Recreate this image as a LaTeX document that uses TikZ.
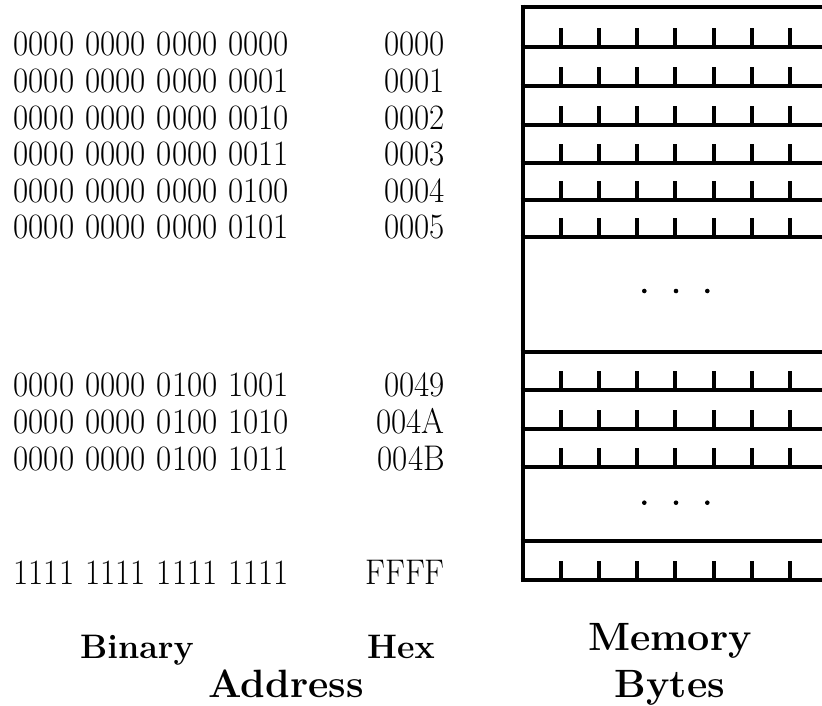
\documentclass[tikz,border=0pt]{standalone}
\usepackage{graphicx}
\newcommand\ysc[1]{\scalebox{1}[1.08]{#1}}
\newcommand\bgr[4]{\ysc{#1\hspace{11pt}#2\hspace{11pt}#3\hspace{11pt}#4}}
\begin{document}
\begin{tikzpicture}[x=1pt,y=-1pt,
  memline/.style={line width=4pt},
  dig/.style={inner sep=0pt, font=\fontsize{33}{40}\selectfont},
  labsmall/.style={inner sep=0pt, anchor=base, font=\bfseries\fontsize{34}{40}\selectfont},
  labbig/.style={inner sep=0pt, anchor=base, font=\bfseries\fontsize{39.5}{46}\selectfont},
  dotmark/.style={fill=black}]
\useasboundingbox (0,0) rectangle (822,705);

% binary addresses
\node[dig, anchor=base west] (b0) at (13.5,55)    {\bgr{0000}{0000}{0000}{0000}};
\node[dig, anchor=base west] (b1) at (13.5,92.5)  {\bgr{0000}{0000}{0000}{0001}};
\node[dig, anchor=base west] (b2) at (13.5,129.5) {\bgr{0000}{0000}{0000}{0010}};
\node[dig, anchor=base west] (b3) at (13.5,165.5) {\bgr{0000}{0000}{0000}{0011}};
\node[dig, anchor=base west] (b4) at (13.5,202)   {\bgr{0000}{0000}{0000}{0100}};
\node[dig, anchor=base west] (b5) at (13.5,238.5) {\bgr{0000}{0000}{0000}{0101}};
\node[dig, anchor=base west] (b6) at (13.5,396)   {\bgr{0000}{0000}{0100}{1001}};
\node[dig, anchor=base west] (b7) at (13.5,433)   {\bgr{0000}{0000}{0100}{1010}};
\node[dig, anchor=base west] (b8) at (13.5,470)   {\bgr{0000}{0000}{0100}{1011}};
\node[dig, anchor=base west] (b9) at (13.5,584.5) {\bgr{1111}{1111}{1111}{1111}};

% hex addresses
\node[dig, anchor=base east] (h0) at (445,55)    {\ysc{0000}};
\node[dig, anchor=base east] (h1) at (445,92.5)  {\ysc{0001}};
\node[dig, anchor=base east] (h2) at (445,129.5) {\ysc{0002}};
\node[dig, anchor=base east] (h3) at (445,165.5) {\ysc{0003}};
\node[dig, anchor=base east] (h4) at (445,202)   {\ysc{0004}};
\node[dig, anchor=base east] (h5) at (445,238.5) {\ysc{0005}};
\node[dig, anchor=base east] (h6) at (445,396)   {\ysc{0049}};
\node[dig, anchor=base east] (h7) at (445,433)   {\ysc{004A}};
\node[dig, anchor=base east] (h8) at (445,470)   {\ysc{004B}};
\node[dig, anchor=base east] (h9) at (445,584.5) {\ysc{FFFF}};

% memory column
\draw[memline] (522.5,4.5) -- (522.5,582);
\foreach \yy in {6.5,46.5,86,124.5,162.5,199.5,237,351.5,390,428.5,466.5,541,580}
  \draw[memline] (520.5,\yy) -- (830,\yy);
\foreach \yy in {46.5,86,124.5,162.5,199.5,237,390,428.5,466.5,580}
  \foreach \i in {1,...,7}
    \draw[memline] ({522.5+38.2*\i},\yy) -- ({522.5+38.2*\i},\yy-19);

% ellipses
\foreach \xx in {644.3,676,707.3} {
  \fill[dotmark] (\xx,291) circle (2.3);
  \fill[dotmark] (\xx,502.7) circle (2.3);
}

% labels
\node[labsmall] (binary) at (137,658) {Binary};
\node[labsmall] (hex) at (401,658) {Hex};
\node[labbig] (address) at (286,697) {Address};
\node[labbig] (memory) at (670,650) {Memory};
\node[labbig] (bytes) at (670,697) {Bytes};
\end{tikzpicture}
\end{document}
